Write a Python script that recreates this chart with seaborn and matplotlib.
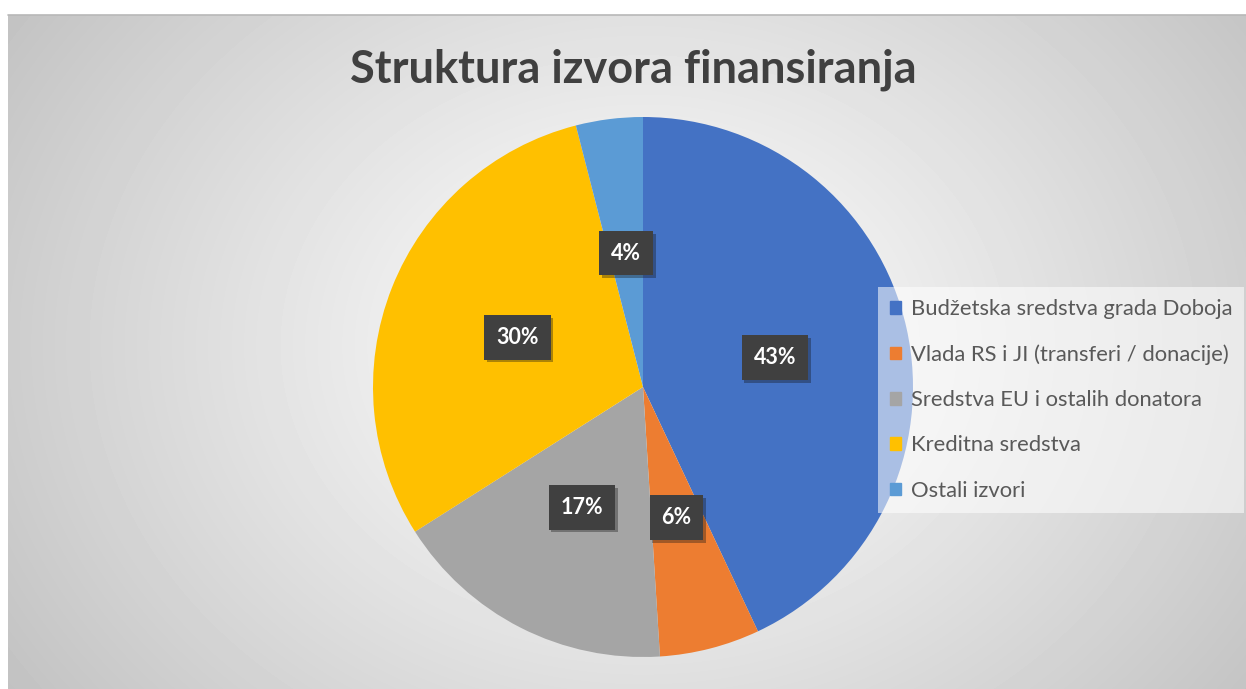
import numpy as np
import matplotlib
matplotlib.use('Agg')
import matplotlib.pyplot as plt
import matplotlib.patheffects as pe
import seaborn as sns

# Podaci
kategorije = ['Budžetska sredstva grada Doboja',
              'Vlada RS i JI (transferi / donacije)',
              'Sredstva EU i ostalih donatora',
              'Kreditna sredstva',
              'Ostali izvori']
udjeli = [43, 6, 17, 30, 4]
boje = ['#4472C4', '#ED7D31', '#A5A5A5', '#FFC000', '#5B9BD5']

sns.set_style('white')
plt.rcParams['font.family'] = ['Lato', 'DejaVu Sans']

W, H = 1246, 689
fig = plt.figure(figsize=(W / 100, H / 100), dpi=100)

# pozadina - radijalni gradijent
bg = fig.add_axes([8 / W, 0, 1 - 8 / W, (H - 15) / H])
yy, xx = np.mgrid[0:674, 0:1238]
d = np.hypot((xx - 635) / 1.0, (yy - 330) * 1.25)
d = d / d.max()
shade = 1 - 0.24 * np.clip(d, 0, 1) ** 1.1
bg.imshow(shade, cmap='gray', vmin=0, vmax=1, aspect='auto', interpolation='bilinear')
bg.set_axis_off()
fig.add_artist(plt.Line2D([8 / W, 1], [(H - 15) / H] * 2, color='#b8b8b8', lw=1.2))

# pita
r = 270
ax = fig.add_axes([(643 - r) / W, (H - 387 - r) / H, 2 * r / W, 2 * r / H])
wedges, _, autotexts = ax.pie(udjeli, colors=boje, startangle=90, counterclock=False,
                              autopct='%1.0f%%', pctdistance=0.5, radius=1,
                              wedgeprops={'linewidth': 0})
ax.set_xlim(-1, 1)
ax.set_ylim(-1, 1)
ax.set_aspect('equal')
ax.set_axis_off()

for t in autotexts:
    t.set_color('white')
    t.set_fontsize(15.5)
    t.set_fontweight('bold')
    t.set_bbox(dict(boxstyle='square,pad=0.55', facecolor='#404040', edgecolor='none'))
    t.get_bbox_patch().set_path_effects([pe.SimplePatchShadow(offset=(2, -2), alpha=0.35),
                                         pe.Normal()])

fig.text(633 / W, 1 - 70 / H, 'Struktura izvora finansiranja', ha='center', va='center',
         fontsize=32.5, fontweight='bold', color='#404040')

# legenda
handles = [plt.Rectangle((0, 0), 1, 1, color=c) for c in boje]
leg = fig.legend(handles, kategorije, loc='upper left',
                 bbox_to_anchor=(878 / W, 1 - 287 / H), frameon=True,
                 fontsize=15.8, labelcolor='#595959', handlelength=0.5, handleheight=0.5,
                 handletextpad=0.45, labelspacing=1.15, borderpad=0.55, borderaxespad=0)
leg.get_frame().set_facecolor('white')
leg.get_frame().set_alpha(0.55)
leg.get_frame().set_edgecolor('none')
leg.get_frame().set_boxstyle('square', pad=0)

fig.savefig('out.png', dpi=100, facecolor='white')
